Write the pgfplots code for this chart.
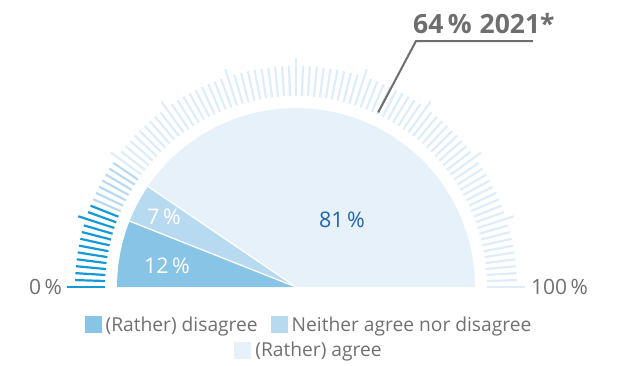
\documentclass[border=0pt]{standalone}
\usepackage{pgfplots}
\pgfplotsset{compat=1.18}
\usepackage{pgfplotstable}
\usepackage{fontspec}
\setmainfont{Open Sans}
\definecolor{cDis}{RGB}{135,196,230}
\definecolor{cNeu}{RGB}{184,218,241}
\definecolor{cAgr}{RGB}{230,241,250}
\definecolor{tDark}{RGB}{20,155,215}
\definecolor{tMed}{RGB}{185,218,240}
\definecolor{tLight}{RGB}{222,237,249}
\definecolor{txtGray}{RGB}{112,112,112}
\definecolor{annGray}{RGB}{110,110,110}
\definecolor{lblBlue}{RGB}{35,100,170}

% shares in percent, drawn as a half pie (p = percent position, r = radius)
\pgfplotstableread[row sep=\\]{p r\\ 0 0\\ 0 179\\ 2 179\\ 4 179\\ 6 179\\ 8 179\\ 10 179\\ 12 179\\ 12 0\\}\sliceA
\pgfplotstableread[row sep=\\]{p r\\ 12 0\\ 12 179\\ 14 179\\ 16 179\\ 18 179\\ 19 179\\ 19 0\\}\sliceB
\pgfplotstableread[row sep=\\]{p r\\ 19 0\\ 19 179\\ 20 179\\ 22 179\\ 24 179\\ 26 179\\ 28 179\\ 30 179\\ 32 179\\ 34 179\\ 36 179\\ 38 179\\ 40 179\\ 42 179\\ 44 179\\ 46 179\\ 48 179\\ 50 179\\ 52 179\\ 54 179\\ 56 179\\ 58 179\\ 60 179\\ 62 179\\ 64 179\\ 66 179\\ 68 179\\ 70 179\\ 72 179\\ 74 179\\ 76 179\\ 78 179\\ 80 179\\ 82 179\\ 84 179\\ 86 179\\ 88 179\\ 90 179\\ 92 179\\ 94 179\\ 96 179\\ 98 179\\ 100 179\\ 100 0\\}\sliceC
\pgfplotstableread[row sep=\\]{p r\\ 12 0\\ 12 179\\}\sepA
\pgfplotstableread[row sep=\\]{p r\\ 19 0\\ 19 179\\}\sepB
% gauge scale ticks (percent position p, tick length L)
\pgfplotstableread[row sep=\\]{p L\\ 0 38\\ 1 30\\ 2 30\\ 3 30\\ 4 30\\ 5 30\\ 6 30\\ 7 30\\ 8 30\\ 9 30\\ 10 38\\ 11 30\\ 12 30\\}\ticksDark
\pgfplotstableread[row sep=\\]{p L\\ 13 30\\ 14 30\\ 15 30\\ 16 30\\ 17 30\\ 18 30\\ 19 30\\}\ticksMed
\pgfplotstableread[row sep=\\]{p L\\ 20 38\\ 21 30\\ 22 30\\ 23 30\\ 24 30\\ 25 30\\ 26 30\\ 27 30\\ 28 30\\ 29 30\\ 30 38\\ 31 30\\ 32 30\\ 33 30\\ 34 30\\ 35 30\\ 36 30\\ 37 30\\ 38 30\\ 39 30\\ 40 38\\ 41 30\\ 42 30\\ 43 30\\ 44 30\\ 45 30\\ 46 30\\ 47 30\\ 48 30\\ 49 30\\ 50 38\\ 51 30\\ 52 30\\ 53 30\\ 54 30\\ 55 30\\ 56 30\\ 57 30\\ 58 30\\ 59 30\\ 60 38\\ 61 30\\ 62 30\\ 63 30\\ 64 30\\ 65 30\\ 66 30\\ 67 30\\ 68 30\\ 69 30\\ 70 38\\ 71 30\\ 72 30\\ 73 30\\ 74 30\\ 75 30\\ 76 30\\ 77 30\\ 78 30\\ 79 30\\ 80 38\\ 81 30\\ 82 30\\ 83 30\\ 84 30\\ 85 30\\ 86 30\\ 87 30\\ 88 30\\ 89 30\\ 90 38\\ 91 30\\ 92 30\\ 93 30\\ 94 30\\ 95 30\\ 96 30\\ 97 30\\ 98 30\\ 99 30\\ 100 38\\}\ticksLight

\pgfplotsset{
  base/.style={
    x=1bp, y=1bp, xmin=-296, xmax=321, ymin=-78, ymax=287,
    hide axis, clip=false, anchor=south west, at={(0,0)},
  },
  leg/.style={
    legend image code/.code={\fill[##1] (0bp,-8.5bp) rectangle (17bp,8.5bp);},
    legend style={draw=none, fill=none, anchor=center, text=txtGray,
      font=\fontsize{19.2bp}{22bp}\selectfont, inner sep=0pt,
      nodes={inner sep=1bp},
      column sep=3bp,
      /tikz/every even column/.append style={column sep=12bp}},
  },
  tickplot/.style={line width=2.2bp, line cap=butt, mark=none, forget plot,
    quiver={u={\thisrow{L}*cos(180-1.8*\thisrow{p})},
            v={\thisrow{L}*sin(180-1.8*\thisrow{p})}}},
}
\newcommand{\px}{\thisrow{r}*cos(180-1.8*\thisrow{p})}
\newcommand{\py}{\thisrow{r}*sin(180-1.8*\thisrow{p})}

\begin{document}
\begin{tikzpicture}
\begin{axis}[base, leg, name=main, legend columns=2,
  legend style={at={(0.5,0.110)}}]
  \addplot[fill=cDis, draw=none] table[x expr={\px}, y expr={\py}] {\sliceA};
  \addlegendentry{(Rather) disagree}
  \addplot[fill=cNeu, draw=none] table[x expr={\px}, y expr={\py}] {\sliceB};
  \addlegendentry{Neither agree nor disagree}
  \addplot[fill=cAgr, draw=none, forget plot] table[x expr={\px}, y expr={\py}] {\sliceC};
  \addplot[white, line width=1.3bp, forget plot] table[x expr={\px}, y expr={\py}] {\sepA};
  \addplot[white, line width=1.3bp, forget plot] table[x expr={\px}, y expr={\py}] {\sepB};
  % scale ticks
  \addplot[tDark, tickplot] table[x expr={191*cos(180-1.8*\thisrow{p})}, y expr={191*sin(180-1.8*\thisrow{p})}] {\ticksDark};
  \addplot[tMed, tickplot] table[x expr={191*cos(180-1.8*\thisrow{p})}, y expr={191*sin(180-1.8*\thisrow{p})}] {\ticksMed};
  \addplot[tLight, tickplot] table[x expr={191*cos(180-1.8*\thisrow{p})}, y expr={191*sin(180-1.8*\thisrow{p})}] {\ticksLight};
  % labels
  \node[white, font=\fontsize{21.5bp}{24bp}\selectfont] at (axis cs:-129,21.5) {12\,\%};
  \node[white, font=\fontsize{21.5bp}{24bp}\selectfont] at (axis cs:-132,70) {7\,\%};
  \node[lblBlue, font=\fontsize{21.5bp}{24bp}\selectfont] at (axis cs:46,67) {81\,\%};
  \node[txtGray, anchor=east, inner sep=0pt, font=\fontsize{21bp}{24bp}\selectfont] at (axis cs:-234,0) {0\,\%};
  \node[txtGray, anchor=west, inner sep=0pt, font=\fontsize{21bp}{24bp}\selectfont] at (axis cs:235,0) {100\,\%};
  % annotation of 2021 value (64 %)
  \draw[annGray, line width=2bp] (axis cs:82.2,174.6) -- (axis cs:120,246) -- (axis cs:237,246);
  \node[annGray, anchor=base west, inner sep=0pt, font=\fontsize{26.5bp}{30bp}\selectfont\bfseries] at (axis cs:117,254) {64\,\%\hspace{0.3em}2021*};
\end{axis}
\begin{axis}[base, leg, legend style={at={(0.5,0.041)}}]
  \addlegendimage{fill=cAgr, draw=none}
  \addlegendentry{(Rather) agree}
\end{axis}
\pgfresetboundingbox
\path[use as bounding box] (main.south west) rectangle (main.north east);
\end{tikzpicture}
\end{document}
